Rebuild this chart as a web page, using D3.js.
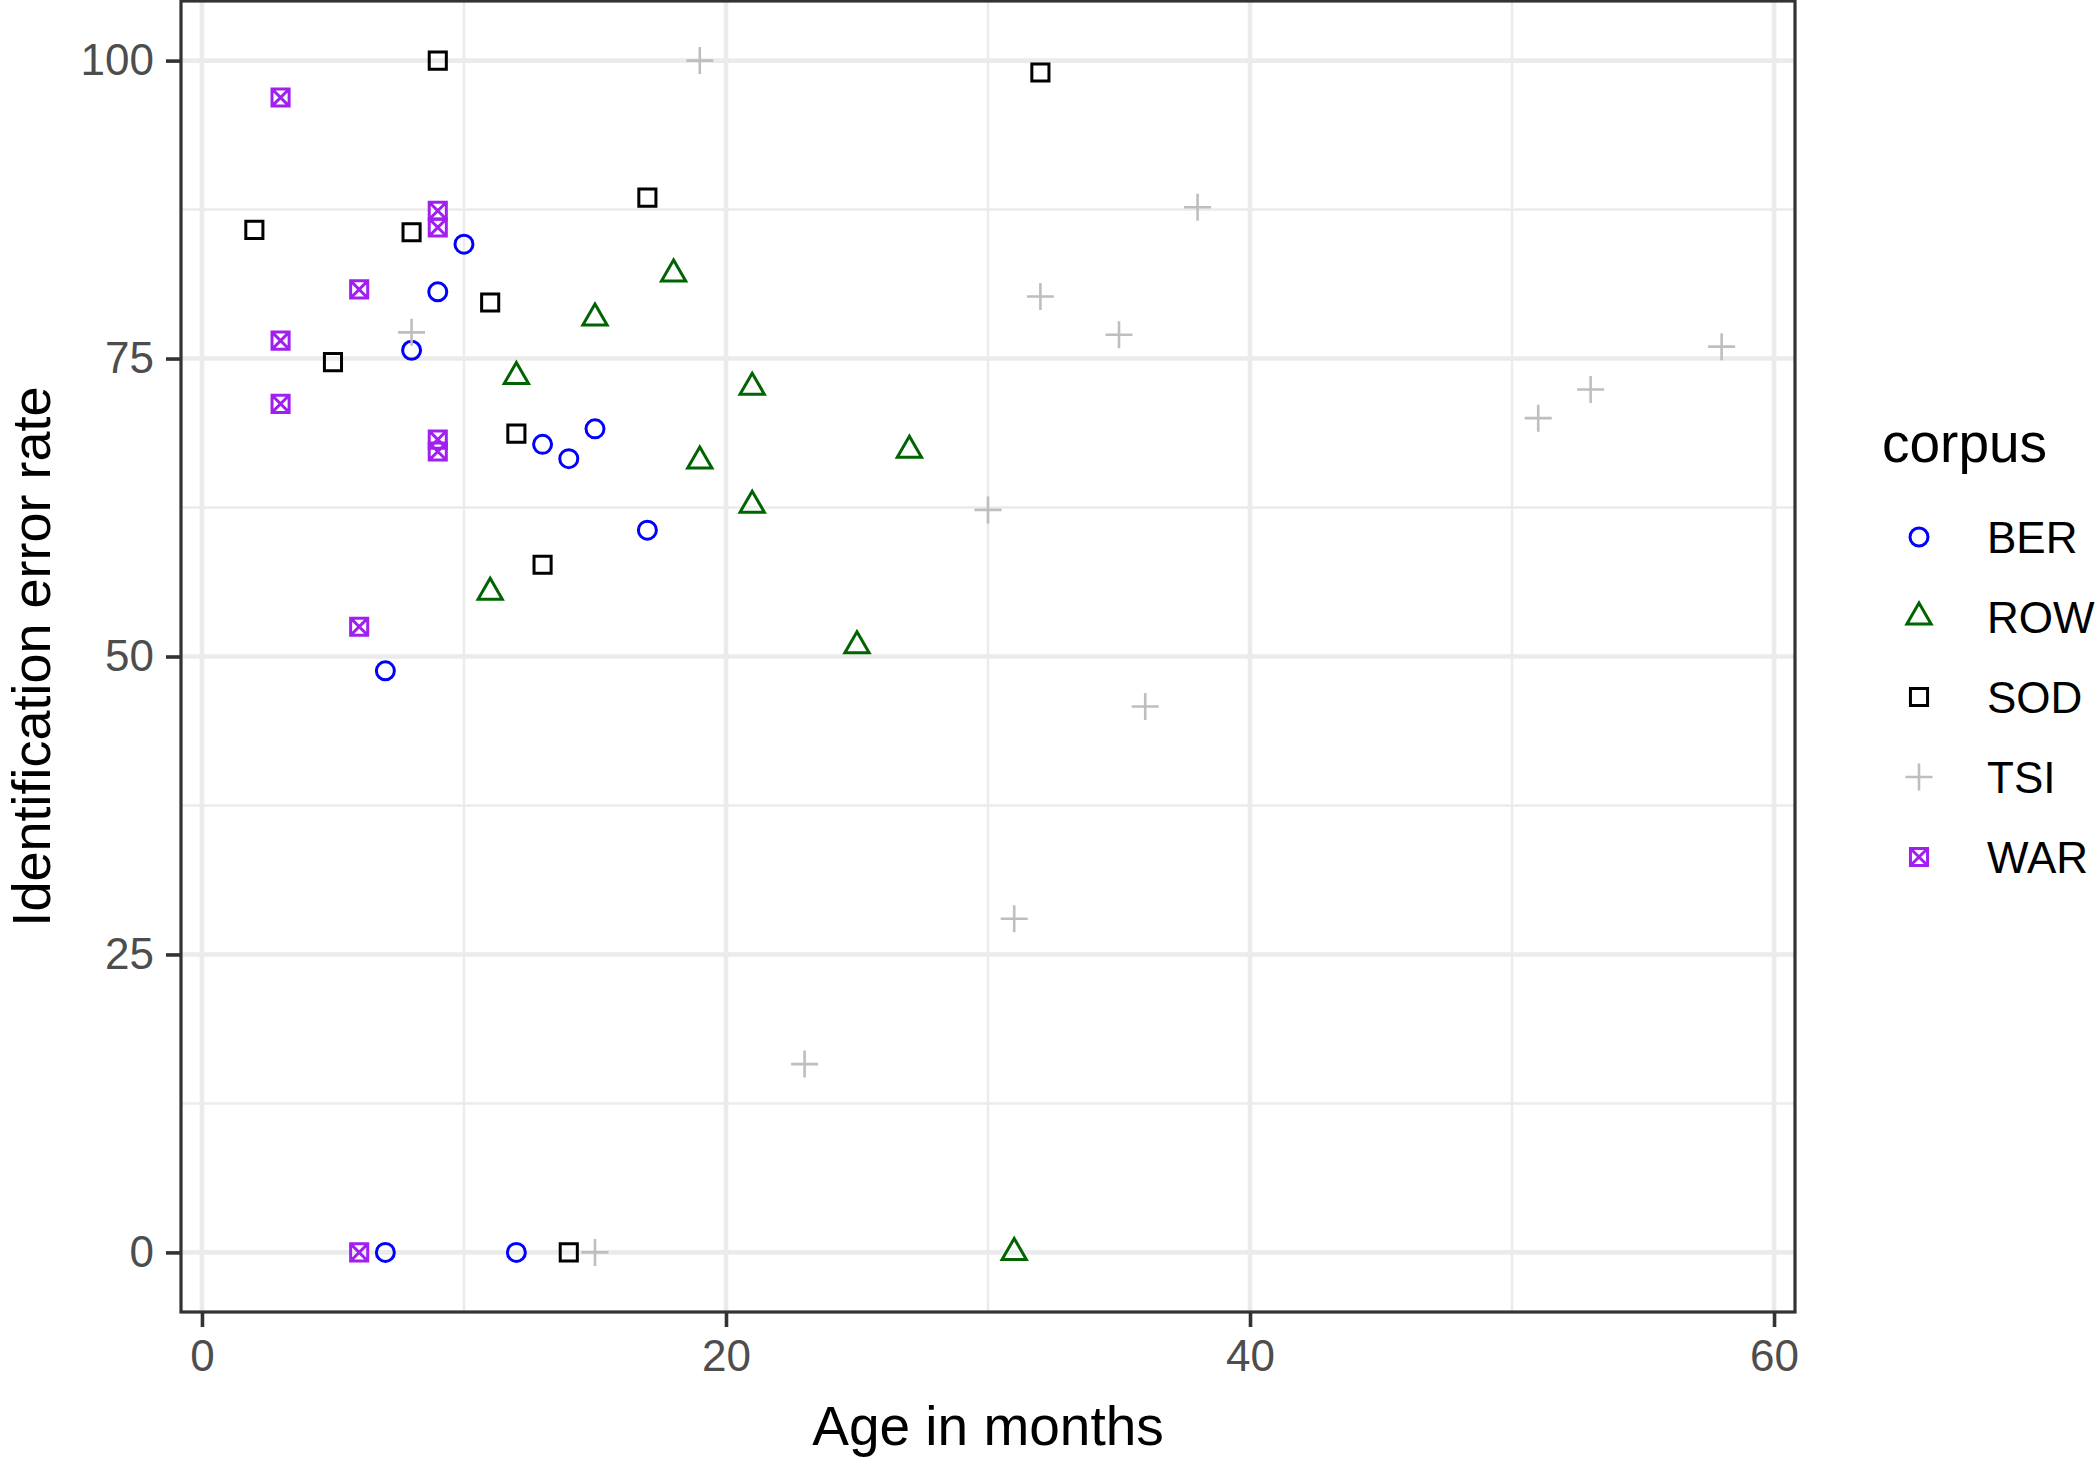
<!DOCTYPE html>
<html><head><meta charset="utf-8">
<script src="https://cdn.jsdelivr.net/npm/d3@7"></script>
<style>
html,body{margin:0;padding:0;background:#fff;}
svg{display:block;font-family:"Liberation Sans", Arial, Helvetica, sans-serif;}
</style>
</head><body>
<svg id="chart" width="2100" height="1458"></svg>
<script>
// ---------------- data ----------------
const corpora = ["BER", "ROW", "SOD", "TSI", "WAR"];

const berAge  = [10, 9, 8, 13, 14, 15, 17, 7, 7, 12];
const berRate = [84.6, 80.6, 75.7, 67.8, 66.6, 69.1, 60.6, 48.8, 0, 0];

const rowAge  = [18, 15, 12, 21, 19, 27, 21, 11, 25, 31];
const rowRate = [82.1, 78.4, 73.5, 72.6, 66.4, 67.3, 62.7, 55.4, 50.9, 0];

const sodAge  = [9, 32, 17, 2, 8, 11, 5, 12, 13, 14];
const sodRate = [100, 99.0, 88.5, 85.8, 85.6, 79.7, 74.7, 68.7, 57.7, 0];

const tsiAge  = [19, 8, 38, 32, 35, 58, 53, 51, 30, 36, 31, 23, 15];
const tsiRate = [100, 77.2, 87.7, 80.2, 77.0, 76.0, 72.4, 70.0, 62.3, 45.8, 28.0, 15.8, 0];

const warAge  = [3, 9, 9, 6, 3, 3, 9, 9, 6, 6];
const warRate = [96.9, 87.4, 86.0, 80.8, 76.5, 71.2, 68.2, 67.2, 52.5, 0];

const xTicks = [0, 20, 40, 60];
const xMinorTicks = [10, 30, 50];
const yTicks = [0, 25, 50, 75, 100];
const yMinorTicks = [12.5, 37.5, 62.5, 87.5];

const xTitle = "Age in months";
const yTitle = "Identification error rate";
const legendTitle = "corpus";

// ---------------- build ----------------
const seriesAges = [berAge, rowAge, sodAge, tsiAge, warAge];
const seriesRates = [berRate, rowRate, sodRate, tsiRate, warRate];
const points = [];
corpora.forEach((c, i) => {
  seriesAges[i].forEach((a, j) => points.push({corpus: c, age: a, rate: seriesRates[i][j]}));
});

const colors = {BER: "#0000FF", ROW: "#006400", SOD: "#000000", TSI: "#BEBEBE", WAR: "#A020F0"};

// R-like point shapes as d3 symbol types (size = R radius)
const shapeCircle = {draw(ctx, R) { ctx.moveTo(R, 0); ctx.arc(0, 0, R, 0, 2 * Math.PI); }};
const shapeTriangle = {draw(ctx, R) {
  const r = 1.555 * R, xc = 1.347 * R, yc = 0.778 * R;
  ctx.moveTo(0, -r); ctx.lineTo(xc, yc); ctx.lineTo(-xc, yc); ctx.closePath();
}};
const shapeSquare = {draw(ctx, R) {
  const h = 0.95 * R; ctx.rect(-h, -h, 2 * h, 2 * h);
}};
const shapePlus = {draw(ctx, R) {
  const a = 1.5 * R;
  ctx.moveTo(-a, 0); ctx.lineTo(a, 0); ctx.moveTo(0, -a); ctx.lineTo(0, a);
}};
const shapeSquareX = {draw(ctx, R) {
  const h = 0.95 * R; ctx.rect(-h, -h, 2 * h, 2 * h);
  ctx.moveTo(-h, -h); ctx.lineTo(h, h); ctx.moveTo(h, -h); ctx.lineTo(-h, h);
}};
const shapes = {BER: shapeCircle, ROW: shapeTriangle, SOD: shapeSquare, TSI: shapePlus, WAR: shapeSquareX};
const R = 9;
const sym = c => d3.symbol().type(shapes[c]).size(R)();

const svg = d3.select("#chart");
const P = {left: 181, right: 1795, top: 1, bottom: 1312};

const ages = points.map(d => d.age), rates = points.map(d => d.rate);
const xMin = d3.min(ages), xMax = d3.max(ages), xr = xMax - xMin;
const x = d3.scaleLinear().domain([xMin - 0.05 * xr, xMax + 0.05 * xr]).range([P.left, P.right]);
const y = d3.scaleLinear().domain([-5, 105]).range([P.bottom, P.top]);

const grid = svg.append("g");
grid.selectAll("line.ymin").data(yMinorTicks).join("line")
  .attr("x1", P.left).attr("x2", P.right).attr("y1", d => y(d)).attr("y2", d => y(d))
  .attr("stroke", "#EBEBEB").attr("stroke-width", 2.4);
grid.selectAll("line.xmin").data(xMinorTicks).join("line")
  .attr("y1", P.top).attr("y2", P.bottom).attr("x1", d => x(d)).attr("x2", d => x(d))
  .attr("stroke", "#EBEBEB").attr("stroke-width", 2.4);
grid.selectAll("line.ymaj").data(yTicks).join("line")
  .attr("x1", P.left).attr("x2", P.right).attr("y1", d => y(d)).attr("y2", d => y(d))
  .attr("stroke", "#EBEBEB").attr("stroke-width", 4.6);
grid.selectAll("line.xmaj").data(xTicks).join("line")
  .attr("y1", P.top).attr("y2", P.bottom).attr("x1", d => x(d)).attr("x2", d => x(d))
  .attr("stroke", "#EBEBEB").attr("stroke-width", 4.6);

// points
svg.append("g").selectAll("path").data(points).join("path")
  .attr("transform", d => `translate(${x(d.age)},${y(d.rate)})`)
  .attr("d", d => sym(d.corpus))
  .attr("fill", "none")
  .attr("stroke", d => colors[d.corpus])
  .attr("stroke-width", d => d.corpus === "TSI" ? 2.6 : 3);

// panel border
svg.append("rect").attr("x", P.left).attr("y", P.top)
  .attr("width", P.right - P.left).attr("height", P.bottom - P.top)
  .attr("fill", "none").attr("stroke", "#333333").attr("stroke-width", 3.2);

// axes
const styleAxis = g => {
  g.select(".domain").remove();
  g.selectAll(".tick line").attr("stroke", "#333333").attr("stroke-width", 3.6);
  g.selectAll(".tick text").attr("fill", "#4D4D4D").style("font-size", "44px")
    .style("font-family", '"Liberation Sans", Arial, sans-serif');
};
svg.append("g").attr("transform", `translate(0,${P.bottom})`)
  .call(d3.axisBottom(x).tickValues(xTicks).tickFormat(d3.format("d")).tickSizeInner(15).tickSizeOuter(0).tickPadding(13))
  .call(styleAxis);
svg.append("g").attr("transform", `translate(${P.left},0)`)
  .call(d3.axisLeft(y).tickValues(yTicks).tickFormat(d3.format("d")).tickSizeInner(15).tickSizeOuter(0).tickPadding(12))
  .call(styleAxis);

// titles
svg.append("text").attr("x", (P.left + P.right) / 2).attr("y", 1445)
  .attr("text-anchor", "middle").style("font-size", "55px").attr("fill", "#000").text(xTitle);
svg.append("text").attr("transform", `translate(50,${(P.top + P.bottom) / 2}) rotate(-90)`)
  .attr("text-anchor", "middle").style("font-size", "54px").attr("fill", "#000").text(yTitle);

// legend
const lg = svg.append("g");
lg.append("text").attr("x", 1882).attr("y", 462).style("font-size", "55px").attr("fill", "#000").text(legendTitle);
const keyY = d3.scalePoint().domain(corpora).range([537, 857]);
const keys = lg.selectAll("g.key").data(corpora).join("g").attr("class", "key")
  .attr("transform", d => `translate(1919,${keyY(d)})`);
keys.append("path").attr("d", d => sym(d)).attr("fill", "none")
  .attr("stroke", d => colors[d]).attr("stroke-width", d => d === "TSI" ? 2.6 : 3);
keys.append("text").attr("x", 68).attr("y", 16).style("font-size", "44px").attr("fill", "#000").text(d => d);
</script>
</body></html>
